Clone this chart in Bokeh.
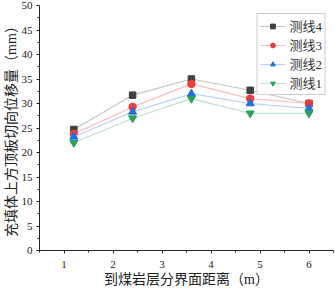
from bokeh.plotting import figure
from bokeh.models import Legend, LegendItem, FixedTicker
from bokeh.embed import file_html
from bokeh.resources import INLINE

x = [1.2, 2.4, 3.6, 4.8, 6.0]
line4 = [24.7, 31.7, 35.0, 32.7, 30.0]
line3 = [23.8, 29.3, 34.0, 31.0, 30.0]
line2 = [23.2, 28.3, 32.0, 30.0, 29.0]
line1 = [22.0, 27.0, 31.0, 28.0, 28.0]
names = ["测线4", "测线3", "测线2", "测线1"]
x_ticks = [1, 2, 3, 4, 5, 6]
y_ticks = [0, 5, 10, 15, 20, 25, 30, 35, 40, 45, 50]

FONT = "'Liberation Serif', 'Noto Sans CJK SC'"

p = figure(width=335, height=289, output_backend="svg", toolbar_location=None,
           x_range=(0.5, 6.5), y_range=(0, 50),
           min_border_left=2, min_border_right=2, min_border_top=5, min_border_bottom=2)
p.outline_line_color = None
p.grid.visible = False
p.background_fill_color = "white"

series = [line4, line3, line2, line1]
marker_colors = ["#404040", "#f03c3c", "#1f6fe0", "#2ca05a"]
line_colors = ["#c4c4c4", "#f8c0c0", "#b8d0f4", "#c0e2cc"]
markers = ["square", "circle", "triangle", "inverted_triangle"]
sizes = [6.5, 7.5, 8, 8]
items = []
for ys, mc, lc, mk, sz, nm in zip(series, marker_colors, line_colors, markers, sizes, names):
    l = p.line(x, ys, line_color=lc, line_width=1.2)
    s = p.scatter(x, ys, marker=mk, size=sz, fill_color=mc, line_color=mc)
    items.append(LegendItem(label=nm, renderers=[l, s]))

leg = Legend(items=items, location="top_right")
leg.label_text_font = FONT
leg.label_text_font_size = "13px"
leg.label_text_line_height = 0.85
leg.label_text_color = "#333333"
leg.border_line_color = "#999999"
leg.border_line_width = 1
leg.margin = 8
leg.padding = 2
leg.spacing = 0
leg.glyph_width = 26
leg.glyph_height = 12
leg.label_height = 12
leg.label_standoff = 4
leg.background_fill_alpha = 1
p.add_layout(leg)

for ax in [p.xaxis[0], p.yaxis[0]]:
    ax.axis_line_color = "#222222"
    ax.major_tick_line_color = "#222222"
    ax.minor_tick_line_color = "#222222"
    ax.major_label_text_font = "Liberation Serif"
    ax.major_label_text_font_size = "11px"
    ax.major_label_text_color = "#222222"
    ax.axis_label_text_font = FONT
    ax.axis_label_text_font_size = "14px"
    ax.axis_label_text_line_height = 0.9
    ax.axis_label_text_font_style = "normal"
    ax.axis_label_text_color = "#222222"
    ax.major_tick_out = 3
    ax.major_tick_in = 0
    ax.minor_tick_out = 2
    ax.minor_tick_in = 0

p.xaxis[0].ticker = FixedTicker(ticks=x_ticks, minor_ticks=[0.5, 1.5, 2.5, 3.5, 4.5, 5.5, 6.5])
p.yaxis[0].ticker = FixedTicker(ticks=y_ticks, minor_ticks=[v + 2.5 for v in y_ticks[:-1]])
p.xaxis[0].axis_label = "到煤岩层分界面距离（m）"
p.yaxis[0].axis_label = "充填体上方顶板切向位移量（mm）"
p.xaxis[0].axis_label_standoff = 1
p.yaxis[0].axis_label_standoff = 0
p.xaxis[0].major_label_standoff = 7
p.yaxis[0].major_label_standoff = 4

open("out.html", "w").write(file_html(p, INLINE))
